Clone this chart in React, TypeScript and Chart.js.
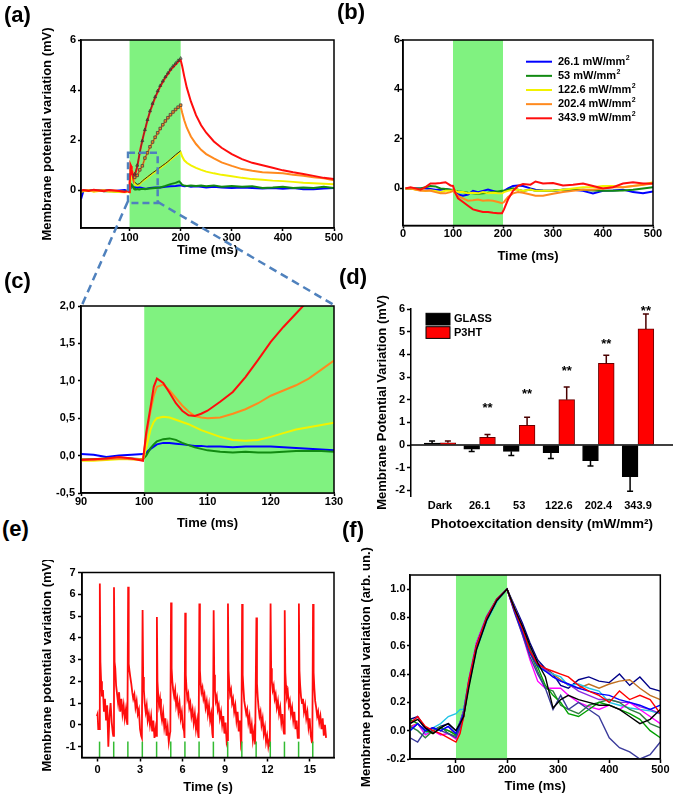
import React, { useEffect, useRef } from 'react';
import { Chart, registerables } from 'chart.js';

Chart.register(...registerables);

const FONT = '"Liberation Sans", Arial, Helvetica, sans-serif';
const BAND = 'rgb(128,242,128)';
const DASH_BLUE = '#4f81bd';
const C_BLUE = '#0000ff';
const C_GREEN = '#118a11';
const C_YELLOW = '#f2f200';
const C_ORANGE = '#ff8a1e';
const C_RED = '#ff0d0d';

// ---------- Panel (a) / (c): membrane potential traces (P3HT) ----------
const A_T = [5, 10, 20, 30, 40, 50, 60, 70, 80, 90, 92, 94, 96, 98, 99.8, 100.3, 101, 101.5, 102, 103, 104, 105, 106, 107, 108, 109, 110, 112, 114, 116, 118, 120, 122, 124, 126, 128, 130, 135, 140, 150, 160, 170, 180, 190, 197, 200, 203, 207, 212, 220, 230, 240, 250, 265, 280, 300, 320, 340, 360, 380, 400, 420, 440, 460, 480, 500];
const A_RED = [0.0, 0.02, -0.02, 0.03, 0.0, -0.03, 0.02, 0.0, -0.02, -0.06, -0.05, -0.04, -0.02, -0.04, -0.07, 0.3, 0.65, 0.92, 1.03, 0.97, 0.84, 0.7, 0.6, 0.54, 0.53, 0.56, 0.6, 0.72, 0.85, 1.05, 1.28, 1.52, 1.72, 1.9, 2.08, 2.25, 2.4, 2.8, 3.15, 3.7, 4.15, 4.5, 4.8, 5.02, 5.18, 5.2, 4.95, 4.55, 4.1, 3.55, 3.0, 2.6, 2.3, 1.95, 1.7, 1.45, 1.25, 1.1, 1.0, 0.9, 0.8, 0.72, 0.65, 0.58, 0.5, 0.45];
const A_ORANGE = [-0.02, 0.0, 0.02, -0.03, 0.0, 0.02, -0.02, 0.0, -0.03, -0.05, -0.06, -0.05, -0.04, -0.05, -0.05, 0.25, 0.6, 0.8, 0.92, 0.95, 0.87, 0.77, 0.67, 0.59, 0.53, 0.51, 0.5, 0.51, 0.56, 0.62, 0.7, 0.8, 0.87, 0.94, 1.03, 1.15, 1.27, 1.5, 1.72, 2.1, 2.45, 2.75, 3.0, 3.2, 3.33, 3.35, 3.1, 2.8, 2.5, 2.15, 1.85, 1.62, 1.45, 1.28, 1.12, 0.98, 0.85, 0.78, 0.72, 0.7, 0.68, 0.62, 0.58, 0.52, 0.48, 0.4];
const A_YELLOW = [-0.05, -0.03, 0.0, -0.05, -0.02, 0.0, -0.04, -0.05, -0.06, -0.07, -0.07, -0.06, -0.05, -0.05, -0.06, 0.1, 0.35, 0.45, 0.5, 0.52, 0.51, 0.48, 0.45, 0.42, 0.38, 0.34, 0.31, 0.25, 0.21, 0.2, 0.21, 0.25, 0.3, 0.35, 0.38, 0.41, 0.44, 0.52, 0.6, 0.75, 0.9, 1.05, 1.22, 1.38, 1.5, 1.52, 1.35, 1.2, 1.1, 1.0, 0.9, 0.82, 0.75, 0.68, 0.62, 0.56, 0.5, 0.45, 0.42, 0.39, 0.37, 0.34, 0.31, 0.29, 0.27, 0.25];
const A_GREEN = [-0.03, -0.02, 0.0, -0.02, 0.0, -0.03, -0.02, -0.04, -0.05, -0.05, -0.05, -0.04, -0.03, -0.04, -0.05, 0.0, 0.1, 0.15, 0.19, 0.22, 0.23, 0.21, 0.17, 0.14, 0.11, 0.09, 0.07, 0.05, 0.04, 0.05, 0.04, 0.04, 0.05, 0.06, 0.06, 0.06, 0.05, 0.07, 0.08, 0.1, 0.12, 0.18, 0.25, 0.3, 0.36, 0.3, 0.22, 0.2, 0.18, 0.2, 0.18, 0.2, 0.17, 0.2, 0.15, 0.18, 0.15, 0.17, 0.1, 0.12, 0.15, 0.1, 0.12, 0.1, 0.15, 0.1];
const A_BLUE = [-0.35, 0.0, 0.02, 0.0, 0.0, 0.02, 0.01, -0.02, 0.0, 0.02, 0.01, -0.02, 0.0, 0.01, 0.02, 0.04, 0.09, 0.12, 0.15, 0.17, 0.17, 0.16, 0.15, 0.14, 0.13, 0.13, 0.12, 0.12, 0.11, 0.12, 0.12, 0.12, 0.11, 0.1, 0.09, 0.08, 0.07, 0.08, 0.1, 0.12, 0.12, 0.15, 0.17, 0.18, 0.2, 0.2, 0.18, 0.17, 0.18, 0.15, 0.17, 0.15, 0.12, 0.15, 0.12, 0.1, 0.12, 0.1, 0.08, 0.1, 0.07, 0.1, 0.05, 0.05, 0.08, 0.1];

// fitted curves over the rising phase
const FIT_T = [110, 115, 120, 125, 130, 135, 140, 145, 150, 155, 160, 165, 170, 175, 180, 185, 190, 195, 200];
const FIT_RED = [0.65, 1.0, 1.5, 1.98, 2.42, 2.82, 3.17, 3.47, 3.73, 3.97, 4.18, 4.36, 4.53, 4.68, 4.83, 4.96, 5.07, 5.18, 5.27];
const FIT_ORANGE = [0.52, 0.6, 0.82, 0.98, 1.29, 1.5, 1.74, 1.93, 2.12, 2.3, 2.47, 2.62, 2.77, 2.9, 3.02, 3.13, 3.23, 3.32, 3.4];
const FIT_YELLOW = [0.33, 0.24, 0.27, 0.38, 0.46, 0.54, 0.62, 0.7, 0.77, 0.85, 0.92, 1.0, 1.07, 1.15, 1.24, 1.33, 1.42, 1.5, 1.58];

const A_ZOOM_X = [97, 155];
const A_ZOOM_Y = [-0.5, 1.5];

// ---------- Panel (b): glass control ----------
const B_T = [5, 15, 25, 35, 45, 55, 65, 75, 85, 95, 100, 105, 110, 120, 130, 140, 150, 160, 170, 180, 190, 198, 202, 210, 220, 230, 240, 255, 265, 280, 300, 320, 340, 360, 380, 400, 420, 440, 460, 480, 500];
const B_RED = [0, 0.05, 0.0, -0.05, 0.05, 0.2, 0.2, 0.22, 0.25, 0.12, 0.1, -0.2, -0.4, -0.55, -0.7, -0.85, -0.9, -0.95, -0.95, -0.98, -1.0, -1.0, -0.85, -0.45, -0.1, 0.1, 0.18, 0.15, 0.28, 0.2, 0.22, 0.12, 0.15, 0.2, 0.1, 0.0, 0.05, 0.2, 0.25, 0.2, 0.2];
const B_ORANGE = [0, 0.0, -0.05, -0.1, -0.1, -0.1, -0.15, -0.2, -0.2, -0.15, -0.1, -0.2, -0.3, -0.4, -0.5, -0.48, -0.45, -0.5, -0.48, -0.5, -0.55, -0.6, -0.55, -0.35, -0.2, -0.15, -0.18, -0.25, -0.3, -0.3, -0.22, -0.15, -0.1, -0.05, -0.05, 0.0, 0.05, 0.05, 0.1, 0.15, 0.2];
const B_YELLOW = [0, 0.0, -0.05, -0.05, -0.1, -0.08, -0.1, -0.15, -0.1, -0.1, -0.08, -0.1, -0.15, -0.15, -0.2, -0.18, -0.2, -0.15, -0.2, -0.18, -0.2, -0.2, -0.15, -0.1, -0.05, -0.05, -0.1, -0.05, -0.1, -0.1, -0.1, -0.05, 0.0, 0.05, 0.05, 0.1, 0.1, 0.05, 0.1, 0.15, 0.25];
const B_GREEN = [0, 0.0, 0.0, 0.0, 0.05, 0.1, 0.08, 0.0, -0.02, -0.05, -0.05, -0.1, -0.12, -0.15, -0.18, -0.2, -0.22, -0.2, -0.18, -0.15, -0.12, -0.1, -0.1, -0.05, 0.0, -0.05, -0.1, -0.05, -0.1, -0.1, -0.08, -0.05, -0.05, -0.05, -0.08, -0.1, -0.1, -0.08, -0.05, 0.0, 0.05];
const B_BLUE = [0, 0.0, 0.0, 0.0, 0.0, -0.02, -0.05, -0.05, -0.02, -0.05, -0.08, -0.15, -0.25, -0.3, -0.25, -0.1, -0.15, -0.1, -0.05, -0.1, -0.15, -0.15, -0.1, 0.0, 0.1, 0.12, 0.1, 0.0, -0.05, -0.08, -0.1, -0.05, -0.05, -0.1, -0.2, -0.1, -0.08, -0.05, -0.15, -0.2, -0.12];
const B_LEGEND = ['26.1', '53', '122.6', '202.4', '343.9'];

// ---------- Panel (d): bar chart ----------
const D_CATS = ['Dark', '26.1', '53', '122.6', '202.4', '343.9'];
const D_GLASS = [0.09, -0.18, -0.28, -0.34, -0.69, -1.4];
const D_GLASS_ERR = [0.09, 0.11, 0.18, 0.26, 0.24, 0.64];
const D_P3HT = [0.1, 0.34, 0.87, 2.0, 3.6, 5.12];
const D_P3HT_ERR = [0.08, 0.12, 0.35, 0.56, 0.36, 0.66];
const D_STARS = [null, 1.8, 2.4, 3.4, 4.63, 6.06];
const D_SERIES = ['GLASS', 'P3HT'];

// ---------- Panel (e): repeated stimulation ----------
const E_STIM = [0.14, 1.14, 2.14, 3.16, 4.17, 5.17, 6.17, 7.17, 8.18, 9.19, 10.19, 11.2, 12.2, 13.2, 14.2, 15.2];
const E_OFFS = [-0.03, 0.02, 0.06, 0.11, 0.17, 0.24, 0.31, 0.38, 0.46, 0.54, 0.62, 0.7, 0.78, 0.86, 0.94];
const E_LEAD_T = [-0.05, 0.0, 0.05];
const E_LEAD_V = [0.4, 0.5, -0.2];
const E_V = [
  [-0.2, 6.5, 2.9, 2.0, 1.3, 1.6, 0.6, 1.2, 0.2, 0.9, -1.0, 0.4, 1.0, 0.1, -0.4],
  [-0.5, 6.32, 2.9, 2.6, 1.8, 1.4, 1.0, 1.5, 0.6, 1.2, 0.5, 0.9, 0.3, 0.7, 0.1],
  [0.0, 6.35, 2.8, 2.5, 2.2, 1.9, 1.5, 1.2, 1.4, 0.8, 1.1, 0.5, 0.7, -0.2, -0.5],
  [-0.6, 5.28, 2.2, 1.6, 1.0, 0.6, 0.9, 0.2, 0.5, 0.0, 0.4, -0.3, 0.2, -0.6, -0.2],
  [-0.5, 4.95, 2.0, 1.4, 0.9, 1.2, 0.5, 0.2, 0.6, -0.1, 0.3, -0.5, -0.1, -0.8, -0.4],
  [-0.3, 5.62, 2.6, 2.0, 1.6, 1.3, 1.6, 0.9, 1.2, 0.6, 1.0, 0.3, 0.6, -0.1, -0.3],
  [-0.6, 5.15, 2.3, 1.7, 1.2, 1.4, 0.8, 1.0, 0.4, 0.7, 0.1, 0.5, -0.2, 0.2, -0.5],
  [-0.6, 5.58, 2.5, 1.9, 1.5, 1.7, 1.2, 1.4, 0.8, 1.1, 0.5, 0.9, 0.2, 0.5, -0.4],
  [-0.6, 5.27, 2.3, 1.6, 1.1, 1.3, 0.7, 0.9, 0.3, 0.6, 0.0, 0.4, -0.4, 0.1, -0.8],
  [-0.7, 5.58, 2.5, 1.9, 1.4, 1.6, 1.0, 1.2, 0.6, 0.9, 0.2, 0.6, -0.3, 0.2, -0.9],
  [-0.8, 5.55, 2.3, 1.7, 1.1, 0.8, 0.5, 0.7, 0.1, 0.4, -0.4, 0.0, -0.7, -0.3, -0.9],
  [-0.9, 4.93, 1.9, 1.3, 0.8, 0.4, 0.6, 0.0, 0.3, -0.4, -0.1, -0.8, -0.5, -1.0, -0.7],
  [-1.0, 5.58, 2.6, 2.0, 1.6, 1.8, 1.2, 1.4, 0.8, 1.1, 0.5, 0.8, 0.1, 0.5, -0.3],
  [-0.4, 5.26, 2.4, 1.8, 1.3, 1.5, 0.9, 1.1, 0.5, 0.8, 0.2, 0.6, -0.2, 0.2, -0.6],
  [-0.6, 5.58, 2.5, 1.8, 1.3, 1.0, 1.2, 0.6, 0.9, 0.3, 0.6, -0.1, 0.3, -0.5, -0.8],
  [-0.8, 5.55, 2.4, 1.7, 1.1, 0.8, 0.4, 0.6, 0.1, 0.4, -0.2, 0.3, -0.5, 0.0, -0.6],
];
const E_MARK_TOP = -0.77;

// ---------- Panel (f): normalized traces ----------
const F_T = [10, 25, 40, 55, 70, 85, 100, 108, 115, 125, 140, 160, 180, 200, 215, 230, 245, 260, 275, 290, 305, 320, 340, 360, 380, 400, 420, 440, 460, 480, 500];
const F_COLORS = ['#000000', '#ff0000', '#0000ff', '#3b3b9c', '#00a000', '#2f7f3f', '#ff00ff', '#8a2be2', '#22c4e6', '#c07020', '#000088'];
const F_SERIES = [
  [0.05, 0.08, 0.02, -0.02, 0.02, 0.05, 0.0, 0.05, 0.1, 0.3, 0.57, 0.78, 0.92, 1.0, 0.86, 0.74, 0.6, 0.48, 0.38, 0.16, 0.22, 0.25, 0.22, 0.2, 0.18, 0.18, 0.15, 0.1, 0.05, 0.08, 0.15],
  [0.05, 0.1, 0.03, 0.0, -0.02, -0.05, -0.08, -0.02, 0.1, 0.35, 0.6, 0.8, 0.93, 1.0, 0.85, 0.72, 0.56, 0.47, 0.44, 0.42, 0.4, 0.38, 0.32, 0.28, 0.25, 0.2, 0.28, 0.22, 0.25, 0.22, 0.12],
  [0.0, 0.05, 0.0, 0.02, 0.0, 0.03, -0.02, 0.05, 0.12, 0.33, 0.6, 0.8, 0.93, 1.0, 0.84, 0.7, 0.55, 0.46, 0.42, 0.38, 0.35, 0.33, 0.3, 0.28, 0.26, 0.25, 0.22, 0.2, 0.18, 0.15, 0.18],
  [-0.05, -0.08, 0.0, 0.02, 0.0, -0.02, -0.05, 0.03, 0.1, 0.32, 0.58, 0.78, 0.92, 1.0, 0.83, 0.68, 0.52, 0.4, 0.3, 0.15, 0.25, 0.15, 0.2, 0.15, 0.1, -0.05, -0.12, -0.15, -0.2, -0.17, -0.08],
  [0.08, 0.05, 0.0, -0.02, 0.02, 0.0, -0.03, 0.04, 0.12, 0.34, 0.6, 0.79, 0.92, 1.0, 0.86, 0.72, 0.57, 0.45, 0.32, 0.25, 0.2, 0.12, 0.1, 0.15, 0.2, 0.18, 0.15, 0.12, 0.08, 0.0, -0.05],
  [0.03, 0.0, -0.05, 0.0, 0.03, -0.02, -0.04, 0.02, 0.1, 0.33, 0.6, 0.8, 0.93, 1.0, 0.85, 0.7, 0.55, 0.42, 0.3, 0.28, 0.18, 0.15, 0.12, 0.18, 0.2, 0.22, 0.2, 0.15, 0.12, 0.05, 0.02],
  [0.02, 0.05, -0.03, 0.0, -0.03, -0.02, -0.06, 0.0, 0.1, 0.35, 0.62, 0.8, 0.93, 1.0, 0.84, 0.68, 0.5, 0.35, 0.3, 0.3, 0.3, 0.25, 0.2, 0.17, 0.15, 0.18, 0.15, 0.2, 0.15, 0.1, 0.05],
  [0.05, 0.1, 0.0, 0.02, 0.0, 0.03, -0.03, 0.06, 0.14, 0.36, 0.62, 0.81, 0.93, 1.0, 0.87, 0.74, 0.58, 0.48, 0.43, 0.38, 0.35, 0.33, 0.28, 0.25, 0.22, 0.22, 0.2, 0.2, 0.17, 0.15, 0.12],
  [0.0, 0.05, -0.02, 0.02, 0.05, 0.1, 0.12, 0.15, 0.15, 0.32, 0.57, 0.77, 0.91, 1.0, 0.85, 0.7, 0.55, 0.45, 0.42, 0.4, 0.38, 0.32, 0.33, 0.3, 0.28, 0.2, 0.18, 0.16, 0.15, 0.14, 0.12],
  [0.03, 0.05, 0.0, -0.02, 0.02, 0.0, -0.02, 0.04, 0.12, 0.34, 0.6, 0.8, 0.93, 1.0, 0.86, 0.73, 0.58, 0.48, 0.43, 0.4, 0.36, 0.32, 0.3, 0.33, 0.3, 0.33, 0.35, 0.36, 0.3, 0.25, 0.22],
  [0.08, 0.1, 0.02, 0.0, 0.03, 0.05, 0.0, 0.06, 0.14, 0.35, 0.6, 0.8, 0.92, 1.0, 0.88, 0.76, 0.62, 0.5, 0.44, 0.4, 0.32, 0.3, 0.36, 0.38, 0.35, 0.34, 0.4, 0.32, 0.38, 0.3, 0.28],
];

// ---------- helpers ----------
function pts(T: number[], V: (number | null)[]) {
  return T.map((t, i) => ({ x: t, y: V[i] }));
}

function lineDs(T: number[], V: number[], color: string, width = 2): any {
  return {
    data: pts(T, V),
    borderColor: color,
    backgroundColor: color,
    borderWidth: width,
    pointRadius: 0,
    pointHoverRadius: 0,
    fill: false,
    tension: 0,
  };
}

type AxisOpt = {
  min: number;
  max: number;
  ticks: number[];
  size: number;
  tickLen: number;
  tickPad: number;
  fmt?: (v: number) => string;
  title?: string;
  titlePad?: any;
  titleSize?: number;
  noBorder?: boolean;
  noTicks?: boolean;
};

function axis(o: AxisOpt): any {
  return {
    type: 'linear',
    min: o.min,
    max: o.max,
    offset: false,
    afterBuildTicks: (s: any) => {
      s.ticks = o.ticks.map((v) => ({ value: v }));
    },
    afterFit: (s: any) => {
      if (s.isHorizontal()) s.height = o.size;
      else s.width = o.size;
    },
    grid: {
      display: !o.noTicks,
      offset: false,
      drawOnChartArea: false,
      drawTicks: !o.noTicks,
      tickLength: o.noTicks ? 0 : o.tickLen,
      tickColor: '#000',
      tickWidth: 1.5,
    },
    border: { display: !o.noBorder, color: '#000', width: 1.5 },
    ticks: {
      padding: o.tickPad,
      color: '#000',
      autoSkip: false,
      maxRotation: 0,
      minRotation: 0,
      font: { family: FONT, weight: 'bold', size: 11, lineHeight: 1 },
      callback: (v: any) => (o.fmt ? o.fmt(Number(v)) : String(v)),
    },
    title: o.title
      ? {
          display: true,
          text: o.title,
          color: '#000',
          font: { family: FONT, weight: 'bold', size: o.titleSize || 13, lineHeight: 1.2 },
          padding: o.titlePad,
        }
      : { display: false },
  };
}

function baseOpts(padTop: number, padRight: number, scales: any): any {
  return {
    responsive: false,
    animation: false,
    devicePixelRatio: 1,
    events: [],
    layout: { padding: { top: padTop, right: padRight, left: 0, bottom: 0 } },
    plugins: { legend: { display: false }, tooltip: { enabled: false }, title: { display: false } },
    elements: { point: { radius: 0 }, line: { tension: 0 } },
    scales,
  };
}

function bandPlugin(x0: number, x1: number): any {
  return {
    id: 'band',
    beforeDatasetsDraw(chart: any) {
      const { ctx, chartArea: ca, scales } = chart;
      const a = Math.max(scales.x.getPixelForValue(x0), ca.left);
      const b = Math.min(scales.x.getPixelForValue(x1), ca.right);
      ctx.save();
      ctx.fillStyle = BAND;
      ctx.fillRect(a, ca.top, b - a, ca.bottom - ca.top);
      ctx.restore();
    },
  };
}

const framePlugin: any = {
  id: 'frame',
  afterDraw(chart: any) {
    const { ctx, chartArea: ca } = chart;
    ctx.save();
    ctx.strokeStyle = '#000';
    ctx.lineWidth = 1.5;
    ctx.strokeRect(ca.left, ca.top, ca.right - ca.left, ca.bottom - ca.top);
    ctx.restore();
  },
};

const zoomRectPlugin: any = {
  id: 'zoomRect',
  afterDatasetsDraw(chart: any) {
    const { ctx, scales } = chart;
    const x0 = scales.x.getPixelForValue(A_ZOOM_X[0]);
    const x1 = scales.x.getPixelForValue(A_ZOOM_X[1]);
    const y0 = scales.y.getPixelForValue(A_ZOOM_Y[1]);
    const y1 = scales.y.getPixelForValue(A_ZOOM_Y[0]);
    ctx.save();
    ctx.strokeStyle = DASH_BLUE;
    ctx.lineWidth = 2.5;
    ctx.setLineDash([7, 4]);
    ctx.strokeRect(x0, y0, x1 - x0, y1 - y0);
    ctx.restore();
  },
};

const legendBPlugin: any = {
  id: 'legendB',
  afterDraw(chart: any) {
    const { ctx, chartArea: ca } = chart;
    const cols = [C_BLUE, C_GREEN, C_YELLOW, C_ORANGE, C_RED];
    ctx.save();
    B_LEGEND.forEach((lab, i) => {
      const y = ca.top + 21.7 + i * 14.15;
      ctx.strokeStyle = cols[i];
      ctx.lineWidth = 2;
      ctx.beginPath();
      ctx.moveTo(ca.left + 123, y);
      ctx.lineTo(ca.left + 149, y);
      ctx.stroke();
      ctx.fillStyle = '#000';
      ctx.textBaseline = 'middle';
      ctx.textAlign = 'left';
      ctx.font = `bold 11px ${FONT}`;
      const txt = `${lab} mW/mm`;
      ctx.fillText(txt, ca.left + 155, y);
      const w = ctx.measureText(txt).width;
      ctx.font = `bold 7px ${FONT}`;
      ctx.fillText('2', ca.left + 155 + w + 0.5, y - 4);
    });
    ctx.restore();
  },
};

const barDecorPlugin: any = {
  id: 'barDecor',
  afterDatasetsDraw(chart: any) {
    const { ctx, chartArea: ca, scales } = chart;
    const ys = scales.y;
    ctx.save();
    // zero line
    ctx.strokeStyle = '#000';
    ctx.lineWidth = 1.5;
    ctx.beginPath();
    ctx.moveTo(ca.left, ys.getPixelForValue(0));
    ctx.lineTo(ca.right, ys.getPixelForValue(0));
    ctx.stroke();
    // error bars
    const groups = [
      { vals: D_GLASS, errs: D_GLASS_ERR, color: '#000' },
      { vals: D_P3HT, errs: D_P3HT_ERR, color: '#4a0000' },
    ];
    groups.forEach((g, di) => {
      const meta = chart.getDatasetMeta(di);
      meta.data.forEach((el: any, i: number) => {
        const v = g.vals[i];
        const end = v >= 0 ? v + g.errs[i] : v - g.errs[i];
        const py = ys.getPixelForValue(end);
        const pv = ys.getPixelForValue(v);
        ctx.strokeStyle = g.color;
        ctx.lineWidth = 1.5;
        ctx.beginPath();
        ctx.moveTo(el.x, pv);
        ctx.lineTo(el.x, py);
        ctx.moveTo(el.x - 3, py);
        ctx.lineTo(el.x + 3, py);
        ctx.stroke();
      });
    });
    // significance stars
    ctx.fillStyle = '#000';
    ctx.font = `bold 13px ${FONT}`;
    ctx.textAlign = 'center';
    ctx.textBaseline = 'alphabetic';
    const redMeta = chart.getDatasetMeta(1);
    D_STARS.forEach((s, i) => {
      if (s == null) return;
      const el = redMeta.data[i];
      ctx.fillText('**', el.x, ys.getPixelForValue(s) + 7.5);
    });
    // legend
    const lx = ca.left + 15;
    const fills = ['#000000', '#ff0000'];
    D_SERIES.forEach((name, i) => {
      const ty = ca.top + 4.3 + i * 13.4;
      ctx.fillStyle = fills[i];
      ctx.fillRect(lx, ty, 24, 11.7);
      ctx.strokeStyle = '#000';
      ctx.lineWidth = 1;
      ctx.strokeRect(lx, ty, 24, 11.7);
      ctx.fillStyle = '#000';
      ctx.font = `bold 11px ${FONT}`;
      ctx.textAlign = 'left';
      ctx.textBaseline = 'middle';
      ctx.fillText(name, lx + 28, ty + 6);
    });
    ctx.restore();
  },
};

const stimPlugin: any = {
  id: 'stim',
  afterDatasetsDraw(chart: any) {
    const { ctx, scales } = chart;
    ctx.save();
    ctx.strokeStyle = '#33bb33';
    ctx.lineWidth = 1.5;
    E_STIM.forEach((s) => {
      const x = scales.x.getPixelForValue(s);
      ctx.beginPath();
      ctx.moveTo(x, scales.y.getPixelForValue(-1.5));
      ctx.lineTo(x, scales.y.getPixelForValue(E_MARK_TOP));
      ctx.stroke();
    });
    ctx.restore();
  },
};

// ---------- configs ----------
const AC_DATASETS = () => [
  lineDs(A_T, A_RED, C_RED, 2),
  lineDs(A_T, A_ORANGE, C_ORANGE, 2),
  lineDs(A_T, A_YELLOW, C_YELLOW, 2),
  lineDs(A_T, A_GREEN, C_GREEN, 2),
  lineDs(A_T, A_BLUE, C_BLUE, 2),
];

function cfgA(): any {
  const fits = [
    {
      data: pts(FIT_T, FIT_RED),
      borderColor: 'rgba(60,60,60,0.9)',
      borderWidth: 0.7,
      pointStyle: 'triangle',
      pointRadius: 1.7,
      pointBorderColor: '#333',
      pointBackgroundColor: 'rgba(0,0,0,0)',
      pointBorderWidth: 0.8,
      fill: false,
      tension: 0,
    },
    {
      data: pts(FIT_T, FIT_ORANGE),
      showLine: true,
      borderColor: 'rgba(60,60,60,0.8)',
      borderWidth: 0.7,
      pointStyle: 'rect',
      pointRadius: 1.8,
      pointBorderColor: '#444',
      pointBackgroundColor: C_ORANGE,
      pointBorderWidth: 0.8,
      fill: false,
      tension: 0,
    },
    { data: pts(FIT_T, FIT_YELLOW), borderColor: '#222', borderWidth: 1, pointRadius: 0, fill: false, tension: 0 },
  ];
  return {
    type: 'line',
    data: { datasets: [...fits, ...AC_DATASETS()] },
    options: baseOpts(15, 11, {
      x: axis({ min: 5, max: 500, ticks: [100, 200, 300, 400, 500], size: 34, tickLen: 3, tickPad: 1, title: 'Time (ms)', titlePad: { top: 0, bottom: 4.2 } }),
      y: axis({ min: -1.5, max: 6, ticks: [0, 2, 4, 6], size: 51, tickLen: 3, tickPad: 2, title: 'Membrane potential variation (mV)', titlePad: { top: 9.7, bottom: 0 } }),
    }),
    plugins: [bandPlugin(100, 200), zoomRectPlugin, framePlugin],
  };
}

function cfgB(): any {
  return {
    type: 'line',
    data: {
      datasets: [
        lineDs(B_T, B_RED, C_RED, 2),
        lineDs(B_T, B_ORANGE, C_ORANGE, 2),
        lineDs(B_T, B_YELLOW, C_YELLOW, 2),
        lineDs(B_T, B_GREEN, C_GREEN, 2),
        lineDs(B_T, B_BLUE, C_BLUE, 2),
      ],
    },
    options: baseOpts(15, 12, {
      x: axis({ min: 0, max: 500, ticks: [0, 100, 200, 300, 400, 500], size: 44.5, tickLen: 3, tickPad: 0, title: 'Time (ms)', titlePad: { top: 0, bottom: 5.5 } }),
      y: axis({ min: -1.5, max: 6, ticks: [0, 2, 4, 6], size: 43, tickLen: 3, tickPad: 0 }),
    }),
    plugins: [bandPlugin(100, 200), legendBPlugin, framePlugin],
  };
}

function cfgC(): any {
  return {
    type: 'line',
    data: { datasets: AC_DATASETS() },
    options: baseOpts(16, 11, {
      x: axis({ min: 90, max: 130, ticks: [90, 100, 110, 120, 130], size: 47, tickLen: 3, tickPad: 0, title: 'Time (ms)', titlePad: { top: 0, bottom: 9.2 } }),
      y: axis({
        min: -0.5,
        max: 2,
        ticks: [-0.5, 0, 0.5, 1, 1.5, 2],
        size: 51,
        tickLen: 3,
        tickPad: 3,
        fmt: (v) => v.toFixed(1).replace('.', ','),
      }),
    }),
    plugins: [bandPlugin(100, 130), framePlugin],
  };
}

function cfgD(): any {
  return {
    type: 'bar',
    data: {
      datasets: [
        {
          label: D_SERIES[0],
          data: D_GLASS.map((v, i) => ({ x: i, y: v })),
          backgroundColor: '#000000',
          borderColor: '#000000',
          borderWidth: 1,
          barThickness: 15.8,
        },
        {
          label: D_SERIES[1],
          data: D_P3HT.map((v, i) => ({ x: i, y: v })),
          backgroundColor: '#ff0000',
          borderColor: '#6a0000',
          borderWidth: 1,
          barThickness: 15.8,
        },
      ],
    },
    options: baseOpts(14, 2, {
      x: axis({
        min: -0.732,
        max: 5.884,
        ticks: [0, 1, 2, 3, 4, 5],
        size: 49,
        tickLen: 0,
        tickPad: 4,
        noTicks: true,
        noBorder: true,
        fmt: (v) => D_CATS[Math.round(v)] || '',
        title: 'Photoexcitation density (mW/mm²)',
        titleSize: 13.5,
        titlePad: { top: 0, bottom: 12.9 },
      }),
      y: axis({
        min: -2.25,
        max: 6,
        ticks: [-2, -1, 0, 1, 2, 3, 4, 5, 6],
        size: 56,
        tickLen: 4,
        tickPad: 2,
        title: 'Membrane Potential Variation (mV)',
        titlePad: { top: 19.2, bottom: 0 },
      }),
    }),
    plugins: [barDecorPlugin],
  };
}

function cfgE(): any {
  const data: { x: number; y: number }[] = [];
  E_LEAD_T.forEach((t, i) => data.push({ x: t, y: E_LEAD_V[i] }));
  E_STIM.forEach((s, k) => {
    E_OFFS.forEach((o, j) => data.push({ x: Math.round((s + o) * 1000) / 1000, y: E_V[k][j] }));
  });
  return {
    type: 'line',
    data: {
      datasets: [{ data, borderColor: C_RED, borderWidth: 1.8, pointRadius: 0, fill: false, tension: 0 }],
    },
    options: baseOpts(12.5, 11, {
      x: axis({ min: -1.1, max: 16.7, ticks: [0, 3, 6, 9, 12, 15], size: 40.5, tickLen: 4, tickPad: 3, title: 'Time (s)', titlePad: { top: 0, bottom: 3.2 } }),
      y: axis({
        min: -1.5,
        max: 7,
        ticks: [-1, 0, 1, 2, 3, 4, 5, 6, 7],
        size: 52,
        tickLen: 4,
        tickPad: 2.5,
        title: 'Membrane potential variation (mV)',
        titlePad: { top: 9.7, bottom: 0 },
      }),
    }),
    plugins: [stimPlugin, framePlugin],
  };
}

function cfgF(): any {
  return {
    type: 'line',
    data: { datasets: F_SERIES.map((s, i) => lineDs(F_T, s, F_COLORS[i], 1.4)) },
    options: baseOpts(35, 10, {
      x: axis({ min: 10, max: 500, ticks: [100, 200, 300, 400, 500], size: 39, tickLen: 4, tickPad: 1.5, title: 'Time (ms)', titlePad: { top: 0, bottom: 3.5 } }),
      y: axis({
        min: -0.2,
        max: 1.1,
        ticks: [-0.2, 0, 0.2, 0.4, 0.6, 0.8, 1.0],
        size: 55,
        tickLen: 3,
        tickPad: 1.5,
        fmt: (v) => v.toFixed(1),
        title: 'Membrane potential variation (arb. un.)',
        titlePad: { top: 3.9, bottom: 0 },
      }),
    }),
    plugins: [bandPlugin(100, 200), framePlugin],
  };
}

// ---------- components ----------
function ChartPanel(props: { x: number; y: number; w: number; h: number; make: () => any }) {
  const ref = useRef<HTMLCanvasElement | null>(null);
  useEffect(() => {
    if (!ref.current) return;
    const chart = new Chart(ref.current, props.make());
    return () => chart.destroy();
  }, []);
  return (
    <canvas
      ref={ref}
      width={props.w}
      height={props.h}
      style={{ position: 'absolute', left: props.x, top: props.y, width: props.w, height: props.h }}
    />
  );
}

function PanelLabel(props: { text: string; x: number; y: number }) {
  return (
    <div
      style={{
        position: 'absolute',
        left: props.x,
        top: props.y,
        font: `bold 22px ${FONT}`,
        lineHeight: '22px',
        color: '#000',
        whiteSpace: 'nowrap',
      }}
    >
      {props.text}
    </div>
  );
}

export default function App() {
  return (
    <div
      style={{
        position: 'absolute',
        left: 0,
        top: 0,
        width: 675,
        height: 798,
        background: '#fff',
        overflow: 'hidden',
      }}
    >
      <ChartPanel x={30} y={25} w={315} h={237} make={cfgA} />
      <ChartPanel x={360} y={25} w={305} h={245} make={cfgB} />
      <ChartPanel x={30} y={290} w={315} h={250} make={cfgC} />
      <ChartPanel x={355} y={295} w={320} h={250} make={cfgD} />
      <ChartPanel x={30} y={560} w={315} h={238} make={cfgE} />
      <ChartPanel x={355} y={540} w={316} h={258} make={cfgF} />
      <PanelLabel text="(a)" x={4} y={4} />
      <PanelLabel text="(b)" x={337} y={1} />
      <PanelLabel text="(c)" x={4} y={270} />
      <PanelLabel text="(d)" x={339} y={266} />
      <PanelLabel text="(e)" x={2} y={518} />
      <PanelLabel text="(f)" x={342} y={519} />
      <svg
        width={675}
        height={798}
        style={{ position: 'absolute', left: 0, top: 0, pointerEvents: 'none' }}
      >
        <line x1={127.7} y1={201.7} x2={82} y2={305} stroke={DASH_BLUE} strokeWidth={2.5} strokeDasharray="8 5" />
        <line x1={157.3} y1={201.7} x2={334} y2={305} stroke={DASH_BLUE} strokeWidth={2.5} strokeDasharray="8 5" />
      </svg>
    </div>
  );
}
